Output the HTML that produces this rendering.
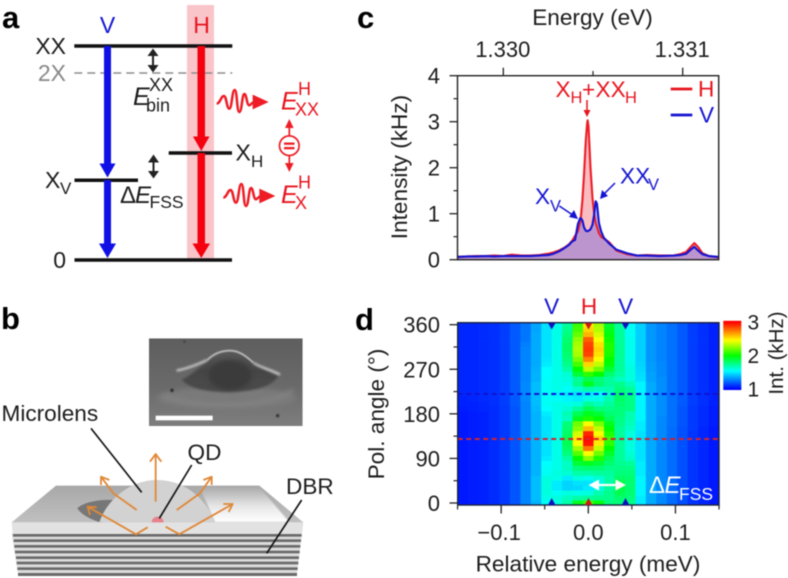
<!DOCTYPE html>
<html lang="en">
<head>
<meta charset="utf-8">
<title>Quantum dot emission figure</title>
<style>
html,body{margin:0;padding:0;background:#fff;width:788px;height:578px;overflow:hidden}
svg{display:block;position:absolute;left:0;top:0;filter:blur(0.45px)}
text{font-family:"Liberation Sans",Arial,sans-serif;fill:#1c1c1c}
.it{font-style:italic}
.bold{font-weight:bold;font-size:31px;fill:#000}
.red{fill:#e8141e}
.blue{fill:#1414d2}
</style>
</head>
<body>
<svg id="fig" width="788" height="578" viewBox="0 0 788 578" xmlns="http://www.w3.org/2000/svg">
<defs>
<filter id="b1" x="-30%" y="-30%" width="160%" height="160%"><feGaussianBlur stdDeviation="1.5"/></filter>
<filter id="b2" x="-30%" y="-30%" width="160%" height="160%"><feGaussianBlur stdDeviation="3"/></filter>
<filter id="b3" x="-30%" y="-30%" width="160%" height="160%"><feGaussianBlur stdDeviation="7"/></filter>
<linearGradient id="glow" x1="0" y1="0" x2="0" y2="1"><stop offset="0" stop-color="#a8a8a8"/><stop offset=".55" stop-color="#e6e6e6"/><stop offset="1" stop-color="#ffffff"/></linearGradient>
<linearGradient id="topface" x1="0" y1="0" x2="0" y2="1"><stop offset="0" stop-color="#a8a8a8"/><stop offset="1" stop-color="#c0c0c0"/></linearGradient>
<linearGradient id="semBg" x1="0" y1="0" x2="0" y2="1"><stop offset="0" stop-color="#5e5e5e"/><stop offset=".55" stop-color="#6a6a6a"/><stop offset="1" stop-color="#7e7e7e"/></linearGradient>
<linearGradient id="mound" x1="0" y1="0" x2="0" y2="1"><stop offset="0" stop-color="#5a5a5a"/><stop offset=".5" stop-color="#454545"/><stop offset="1" stop-color="#4c4c4c"/></linearGradient>
<clipPath id="plotC"><rect x="457.5" y="75.7" width="261.2" height="184"/></clipPath>
<clipPath id="plotD"><rect x="457.7" y="322.7" width="261.3" height="182.3"/></clipPath>
<clipPath id="semClip"><rect x="447" y="115" width="461" height="263"/></clipPath>
</defs>

<!-- PANEL A -->
<g id="panel-a">
<text class="bold" x="2" y="28">a</text>
<rect x="187" y="5" width="27" height="255" fill="#f9c5c9"/>
<text x="107.500" y="33" text-anchor="middle" font-size="23" class="blue">V</text>
<text x="201.500" y="33" text-anchor="middle" font-size="23" class="red">H</text>
<line x1="74.300" y1="46" x2="232.300" y2="46" stroke="#111" stroke-width="3.500"/>
<line x1="74.300" y1="73" x2="232.300" y2="73" stroke="#8c8c8c" stroke-width="1.500" stroke-dasharray="8 5"/>
<line x1="74.500" y1="180.300" x2="138" y2="180.300" stroke="#111" stroke-width="3.500"/>
<line x1="168.700" y1="153" x2="232" y2="153" stroke="#111" stroke-width="3.500"/>
<line x1="74.500" y1="260" x2="232" y2="260" stroke="#111" stroke-width="3.500"/>
<text x="66" y="54" text-anchor="end" font-size="23">XX</text>
<text x="66" y="81" text-anchor="end" font-size="23" fill="#888" style="fill:#888">2X</text>
<text x="45" y="188" font-size="23">X</text>
<text x="60" y="194" font-size="17">V</text>
<text x="66" y="268" text-anchor="end" font-size="23">0</text>
<text x="235.500" y="160.500" font-size="23">X</text>
<text x="251" y="167" font-size="17">H</text>
<g fill="#1010e6">
<rect x="104" y="46" width="7" height="118"/><polygon points="99.500,163.500 115.500,163.500 107.500,177.500"/>
<rect x="104" y="180" width="7" height="64"/><polygon points="99,243.500 116,243.500 107.500,258"/>
</g>
<g fill="#f5000f">
<rect x="197.500" y="46" width="7.500" height="92"/><polygon points="193,136.500 209.500,136.500 201.300,151"/>
<rect x="197.500" y="153" width="7.500" height="91"/><polygon points="192.500,243.500 210,243.500 201.300,258"/>
</g>
<g fill="#222" stroke="#222">
<line x1="153" y1="53" x2="153" y2="68" stroke-width="2"/><polygon points="147.500,56 158.500,56 153,48.500" stroke="none"/><polygon points="147.500,65 158.500,65 153,72.500" stroke="none"/>
</g>
<g fill="#222" stroke="#222">
<line x1="153.500" y1="160" x2="153.500" y2="174" stroke-width="2"/><polygon points="148,162.500 159,162.500 153.500,154.500" stroke="none"/><polygon points="148,171 159,171 153.500,178.500" stroke="none"/>
</g>
<text x="133" y="105" font-size="25" class="it">E</text>
<text x="149" y="91" font-size="18">XX</text>
<text x="146" y="111.500" font-size="18">bin</text>
<text x="120" y="203" font-size="24">Δ</text>
<text x="135" y="203" font-size="24" class="it">E</text>
<text x="149.500" y="208" font-size="17.500">FSS</text>
<g transform="scale(0.33333)">
<path d="M650 310 C660 312 664 286 672 288 C680 290 680 326 688 326 C696 326 696 270 704 270 C712 270 710 336 718 336 C726 336 726 282 733 282 C740 282 740 316 748 316 C752 316 756 306 765 306" fill="none" stroke="#ee1c25" stroke-width="7.500"/>
<polygon points="758,284 806,306 758,328" fill="#ee1c25"/>
</g>
<g transform="scale(0.33333) translate(20,282)">
<path d="M650 310 C660 312 664 286 672 288 C680 290 680 326 688 326 C696 326 696 270 704 270 C712 270 710 336 718 336 C726 336 726 282 733 282 C740 282 740 316 748 316 C752 316 756 306 765 306" fill="none" stroke="#ee1c25" stroke-width="7.500"/>
<polygon points="758,284 806,306 758,328" fill="#ee1c25"/>
</g>
<text x="281" y="109.500" font-size="25" class="it red">E</text>
<text x="298" y="95" font-size="18" class="red">H</text>
<text x="295" y="115.500" font-size="18" class="red">XX</text>
<text x="281" y="203" font-size="25" class="it red">E</text>
<text x="298" y="188.500" font-size="18" class="red">H</text>
<text x="295" y="209" font-size="18" class="red">X</text>
<g>
<circle cx="289.300" cy="145.700" r="9.800" fill="none" stroke="#ee1c25" stroke-width="1.700"/>
<rect x="284" y="142.500" width="10.500" height="2.300" fill="#ee1c25"/><rect x="284" y="147" width="10.500" height="2.300" fill="#ee1c25"/>
<line x1="289.300" y1="125" x2="289.300" y2="136" stroke="#ee1c25" stroke-width="1.700"/><polygon points="285,128 293.600,128 289.300,119" fill="#ee1c25"/>
<line x1="289.300" y1="155" x2="289.300" y2="166" stroke="#ee1c25" stroke-width="1.700"/><polygon points="285,163 293.600,163 289.300,172" fill="#ee1c25"/>
</g>
</g>

<!-- PANEL B -->
<g id="panel-b">
<text class="bold" x="1" y="329">b</text>
<g transform="translate(0,300) scale(0.33333)">
<g>
<g clip-path="url(#semClip)">
<rect x="447" y="115" width="461" height="263" fill="url(#semBg)"/>
<ellipse cx="680" cy="295" rx="210" ry="34" fill="#7a7a7a" filter="url(#b3)"/>
<path d="M545 238 C590 222 615 172 688 153 C745 158 775 205 835 228 C815 262 755 276 680 276 C620 276 565 265 545 238 Z" fill="url(#mound)" filter="url(#b2)"/>
<ellipse cx="690" cy="225" rx="65" ry="45" fill="#3a3a3a" filter="url(#b3)"/>
<path d="M622 180 C642 160 665 152 690 152 C715 152 735 165 760 188" fill="none" stroke="#cfcfcf" stroke-width="4.500" filter="url(#b1)"/>
<path d="M530 212 C565 205 590 195 622 180" fill="none" stroke="#d8d8d8" stroke-width="6" filter="url(#b2)"/>
<path d="M760 188 C785 205 810 208 840 224" fill="none" stroke="#dcdcdc" stroke-width="6" filter="url(#b2)"/>
<path d="M490 285 C560 325 800 330 880 270" fill="none" stroke="#858585" stroke-width="9" filter="url(#b3)"/>
<circle cx="516" cy="271" r="5" fill="#2a2a2a" filter="url(#b1)"/><circle cx="833" cy="347" r="5" fill="#333" filter="url(#b1)"/><circle cx="553" cy="125" r="3" fill="#333" filter="url(#b1)"/>
</g>
<rect x="467" y="347" width="171" height="14" fill="#fff"/>
</g>
<g>
<polygon points="35,700 906,700 890,828 55,828" fill="#dcdcdc"/>
<polygon points="35,667 910,667 906,702 38,702" fill="#e2e2e2"/>
<rect x="39" y="702" width="866" height="8" fill="#6a6a6a"/>
<rect x="41" y="718" width="862" height="8" fill="#6a6a6a"/>
<rect x="43" y="735" width="858" height="8" fill="#6a6a6a"/>
<rect x="45" y="752" width="854" height="8" fill="#6a6a6a"/>
<rect x="48" y="769" width="849" height="8" fill="#6a6a6a"/>
<rect x="50" y="785" width="845" height="8" fill="#6a6a6a"/>
<rect x="52" y="802" width="841" height="8" fill="#6a6a6a"/>
<rect x="54" y="819" width="837" height="9" fill="#6a6a6a"/>
<polygon points="35,667 168,557 778,557 910,667" fill="url(#topface)"/>
</g>
<path d="M598 559 L776 559 L868 666 L645 666 Z" fill="url(#glow)" filter="url(#b1)"/>
<path d="M232 625 C250 606 300 598 340 600 L305 668 C275 660 245 645 232 625 Z" fill="#777"/>
<path d="M298 667 C320 600 390 540 470 540 C550 540 615 590 645 667 Z" fill="#d2d2d2"/>
<path d="M455 667 C456 655 465 650 472 650 C482 650 490 656 491 667 Z" fill="#e8808e"/>
<g fill="none" stroke="#e08838" stroke-width="5.500" stroke-linejoin="round">
<path d="M467 605 L467 465 M450 485 L467 462 L484 485"/>
<path d="M410 630 L340 580 L303 530 M303 555 L303 530 L328 540"/>
<path d="M530 630 L600 580 L635 530 M635 555 L635 530 L610 540"/>
<path d="M443 682 L408 703 L263 620 M270 645 L263 620 L290 622"/>
<path d="M497 680 L538 703 L698 612 M670 612 L698 612 L686 636"/>
</g>
<g stroke="#111" stroke-width="5">
<line x1="273" y1="385" x2="425" y2="577"/>
<line x1="575" y1="495" x2="478" y2="655"/>
<line x1="905" y1="600" x2="800" y2="760"/>
</g>
</g>
<text x="1.500" y="421" font-size="22.600">Microlens</text>
<text x="187.500" y="460" font-size="22.600">QD</text>
<text x="286" y="494" font-size="22.600">DBR</text>
</g>

<!-- PANEL C -->
<g id="panel-c">
<text class="bold" x="357" y="28">c</text>
<text x="592.500" y="25" text-anchor="middle" font-size="22.600">Energy (eV)</text>
<text transform="translate(407,167) rotate(-90)" text-anchor="middle" font-size="22.600">Intensity (kHz)</text>
<g id="cMarks" clip-path="url(#plotC)"></g>
<g id="cAxes"></g>
<rect x="457.500" y="75.700" width="261.200" height="184" fill="none" stroke="#222" stroke-width="1.400"/>
<text x="555.500" y="97" font-size="22.600" class="red">X</text>
<text x="570.500" y="103" font-size="16.500" class="red">H</text>
<text x="582" y="97" font-size="22.600" class="red">+</text>
<text x="595.500" y="97" font-size="22.600" class="red">XX</text>
<text x="625" y="103" font-size="16.500" class="red">H</text>
<g><line x1="587" y1="100" x2="587" y2="112" stroke="#e8141e" stroke-width="1.500"/><polygon points="583.500,110 590.500,110 587,117" fill="#e8141e"/></g>
<line x1="670.700" y1="89" x2="692.300" y2="89" stroke="#e8141e" stroke-width="2.800"/>
<text x="698" y="96.500" font-size="22.600" class="red">H</text>
<line x1="670.700" y1="115" x2="692.300" y2="115" stroke="#1414d2" stroke-width="2.800"/>
<text x="699" y="122.500" font-size="22.600" class="blue">V</text>
<text x="535" y="204" font-size="22.600" class="blue">X</text>
<text x="550" y="211.500" font-size="16.500" class="blue">V</text>
<g><line x1="559.300" y1="206" x2="572" y2="214.500" stroke="#1414d2" stroke-width="1.500"/><polygon points="569,217 574,210 578,219" fill="#1414d2"/></g>
<text x="620" y="183.500" font-size="22.600" class="blue">XX</text>
<text x="648" y="190" font-size="16.500" class="blue">V</text>
<g><line x1="615" y1="183" x2="604" y2="194" stroke="#1414d2" stroke-width="1.500"/><polygon points="600,199 602,190 608,196" fill="#1414d2"/></g>
</g>

<!-- PANEL D -->
<g id="panel-d">
<text class="bold" x="355" y="330">d</text>
<g id="dCells" clip-path="url(#plotD)"></g>
<line x1="457.700" y1="394" x2="719" y2="394" stroke="#1212d0" stroke-width="2" stroke-dasharray="5 3.500"/>
<line x1="457.700" y1="439" x2="719" y2="439" stroke="#d8202c" stroke-width="2" stroke-dasharray="5 3.500"/>
<g id="dAxes"></g>
<rect x="457.700" y="322.700" width="261.300" height="182.300" fill="none" stroke="#1a2240" stroke-width="1.400"/>
<text x="551.700" y="314" text-anchor="middle" font-size="22.600" class="blue">V</text>
<text x="589" y="314" text-anchor="middle" font-size="22.600" class="red">H</text>
<text x="625.700" y="314" text-anchor="middle" font-size="22.600" class="blue">V</text>
<g>
<polygon points="548,323 555.500,323 551.700,329.500" fill="#1010c0"/><polygon points="584.800,323 592.300,323 588.500,329.500" fill="#d01818"/><polygon points="621.800,323 629.300,323 625.500,329.500" fill="#1010c0"/>
<polygon points="548,505 555.500,505 551.700,498" fill="#1010c0"/><polygon points="584.800,505 592.300,505 588.500,498" fill="#d01818"/><polygon points="621.800,505 629.300,505 625.500,498" fill="#1010c0"/>
</g>
<g>
<line x1="596" y1="485" x2="618" y2="485" stroke="#fff" stroke-width="2.200"/>
<polygon points="588.500,485 599,479.500 599,490.500" fill="#fff"/><polygon points="626,485 615.500,479.500 615.500,490.500" fill="#fff"/>
</g>
<text x="649" y="493" font-size="24" style="fill:#fff">Δ</text>
<text x="664.500" y="493" font-size="24" class="it" style="fill:#fff">E</text>
<text x="679" y="500" font-size="17.500" style="fill:#fff">FSS</text>
<text x="588" y="571.500" text-anchor="middle" font-size="22.600">Relative energy (meV)</text>
<text transform="translate(384,414) rotate(-90)" text-anchor="middle" font-size="22.600">Pol. angle (°)</text>
<g id="cbar"></g>
<text transform="translate(783,353) rotate(-90)" text-anchor="middle" font-size="20.500">Int. (kHz)</text>
</g>
</svg>

<script>
/* ---------- spectrum data (panel c) ---------- */
const energiesEv = [1.329745,1.329800,1.329850,1.329900,1.329950,1.330000,1.330047,1.330100,1.330150,1.330200,1.330250,1.330280,1.330310,1.330340,1.330365,1.330385,1.330400,1.330416,1.330428,1.330433,1.330441,1.330450,1.330460,1.330467,1.330470,1.330475,1.330486,1.330497,1.330505,1.330515,1.330522,1.330533,1.330545,1.330560,1.330590,1.330630,1.330690,1.330745,1.330800,1.330870,1.330950,1.330985,1.331020,1.331045,1.331065,1.331085,1.331110,1.331145,1.331201];
const intensityH = [0.06,0.07,0.08,0.08,0.09,0.08,0.11,0.09,0.09,0.10,0.13,0.16,0.20,0.26,0.33,0.42,0.52,0.62,0.82,0.95,1.30,1.85,2.60,2.95,3.03,2.90,2.00,1.35,1.05,0.80,0.72,0.58,0.50,0.46,0.38,0.20,0.12,0.09,0.10,0.09,0.09,0.12,0.17,0.28,0.36,0.28,0.14,0.08,0.05];
const intensityV = [0.06,0.07,0.07,0.08,0.07,0.08,0.08,0.08,0.08,0.09,0.10,0.13,0.18,0.25,0.32,0.40,0.43,0.78,0.90,0.90,0.85,0.70,0.63,0.62,0.62,0.63,0.66,0.76,0.95,1.27,1.22,0.80,0.62,0.48,0.35,0.22,0.14,0.09,0.09,0.08,0.09,0.10,0.13,0.22,0.28,0.20,0.12,0.08,0.06];
const intensityTicks = [0,1,2,3,4];
const intensityMinorTicks = [0.5,1.5,2.5,3.5];
const energyTicks = [1.330,1.331];
const energyTickLabels = ['1.330','1.331'];
const energyMinorTicks = [1.3305];

/* ---------- heatmap data (panel d) ---------- */
const relEnergies = [-0.144,-0.132,-0.120,-0.108,-0.096,-0.084,-0.072,-0.060,-0.048,-0.036,-0.024,-0.012,0,0.012,0.024,0.036,0.048,0.060,0.072,0.084,0.096,0.108,0.120,0.132,0.144];
const polAngles = [360,350,340,330,320,310,300,290,280,270,260,250,240,230,220,210,200,190,180,170,160,150,140,130,120,110,100,90,80,70,60,50,40,30,20,10,0];
const heatValues = [
[1.08,1.08,1.09,1.10,1.13,1.19,1.25,1.35,1.48,1.58,1.72,2.10,2.50,2.30,1.92,1.72,1.56,1.44,1.32,1.28,1.24,1.19,1.13,1.10,1.07],
[1.08,1.08,1.09,1.10,1.13,1.19,1.25,1.35,1.48,1.58,1.75,2.12,2.55,2.32,1.95,1.72,1.56,1.44,1.32,1.28,1.24,1.19,1.13,1.10,1.07],
[1.08,1.08,1.09,1.10,1.13,1.19,1.25,1.36,1.48,1.58,1.78,2.18,2.62,2.38,1.98,1.72,1.56,1.44,1.32,1.28,1.24,1.19,1.13,1.10,1.07],
[1.08,1.08,1.09,1.10,1.13,1.19,1.25,1.36,1.48,1.58,1.80,2.26,2.80,2.45,2.02,1.72,1.57,1.44,1.32,1.28,1.24,1.19,1.13,1.10,1.07],
[1.08,1.08,1.09,1.10,1.13,1.19,1.27,1.36,1.48,1.58,1.82,2.30,2.86,2.52,2.05,1.73,1.57,1.44,1.32,1.28,1.24,1.19,1.13,1.10,1.07],
[1.08,1.08,1.09,1.10,1.13,1.19,1.28,1.36,1.48,1.58,1.82,2.32,2.88,2.55,2.05,1.73,1.57,1.44,1.32,1.28,1.24,1.19,1.13,1.10,1.07],
[1.08,1.08,1.09,1.10,1.13,1.19,1.28,1.36,1.48,1.58,1.80,2.30,2.86,2.52,2.04,1.73,1.57,1.44,1.32,1.28,1.24,1.19,1.13,1.10,1.07],
[1.08,1.08,1.09,1.10,1.13,1.19,1.28,1.36,1.49,1.58,1.78,2.22,2.72,2.45,2.00,1.72,1.57,1.44,1.32,1.28,1.24,1.19,1.13,1.10,1.07],
[1.08,1.08,1.09,1.10,1.13,1.19,1.28,1.36,1.50,1.58,1.75,2.12,2.55,2.35,1.98,1.72,1.58,1.45,1.33,1.29,1.24,1.19,1.13,1.10,1.07],
[1.08,1.08,1.09,1.10,1.13,1.19,1.28,1.37,1.54,1.58,1.70,2.00,2.35,2.20,1.90,1.72,1.60,1.46,1.33,1.29,1.24,1.19,1.13,1.10,1.07],
[1.08,1.08,1.09,1.10,1.13,1.19,1.28,1.38,1.54,1.58,1.62,1.90,2.08,2.00,1.80,1.70,1.60,1.47,1.34,1.29,1.24,1.19,1.13,1.10,1.07],
[1.08,1.08,1.09,1.10,1.13,1.19,1.28,1.38,1.55,1.58,1.60,1.72,1.85,1.78,1.72,1.65,1.60,1.48,1.34,1.30,1.24,1.19,1.13,1.10,1.07],
[1.08,1.08,1.09,1.10,1.13,1.19,1.29,1.40,1.56,1.58,1.58,1.75,1.95,1.80,1.72,1.75,1.66,1.52,1.36,1.30,1.24,1.19,1.13,1.10,1.07],
[1.08,1.08,1.09,1.10,1.13,1.19,1.29,1.40,1.56,1.58,1.55,1.62,1.70,1.66,1.68,1.78,1.72,1.52,1.36,1.30,1.24,1.19,1.13,1.10,1.07],
[1.08,1.08,1.09,1.10,1.13,1.19,1.29,1.40,1.56,1.52,1.50,1.48,1.50,1.55,1.65,1.82,1.76,1.52,1.36,1.30,1.24,1.19,1.13,1.10,1.07],
[1.07,1.08,1.09,1.10,1.13,1.19,1.29,1.40,1.56,1.55,1.52,1.50,1.58,1.58,1.68,1.82,1.76,1.52,1.36,1.30,1.24,1.19,1.13,1.10,1.07],
[1.07,1.07,1.08,1.10,1.13,1.19,1.28,1.40,1.56,1.58,1.58,1.60,1.72,1.66,1.72,1.80,1.76,1.52,1.36,1.30,1.24,1.19,1.13,1.10,1.07],
[1.06,1.07,1.08,1.09,1.12,1.18,1.28,1.39,1.54,1.58,1.62,1.72,1.85,1.78,1.76,1.78,1.76,1.52,1.36,1.30,1.24,1.18,1.12,1.09,1.06],
[1.05,1.06,1.07,1.09,1.12,1.18,1.28,1.38,1.50,1.58,1.68,1.85,1.95,1.90,1.80,1.78,1.68,1.52,1.36,1.30,1.24,1.18,1.12,1.09,1.06],
[1.05,1.06,1.07,1.09,1.12,1.18,1.28,1.38,1.48,1.58,1.65,1.95,2.05,2.00,1.85,1.76,1.68,1.52,1.36,1.29,1.24,1.18,1.12,1.09,1.06],
[1.05,1.06,1.07,1.09,1.12,1.18,1.28,1.38,1.48,1.58,1.78,2.20,2.45,2.22,1.95,1.75,1.66,1.50,1.36,1.29,1.24,1.18,1.12,1.09,1.06],
[1.05,1.06,1.07,1.09,1.12,1.18,1.28,1.38,1.48,1.58,1.80,2.25,2.60,2.35,2.00,1.72,1.64,1.50,1.36,1.29,1.23,1.17,1.12,1.08,1.05],
[1.05,1.06,1.07,1.09,1.12,1.18,1.28,1.38,1.48,1.58,1.82,2.38,2.92,2.45,2.05,1.72,1.60,1.48,1.36,1.29,1.23,1.17,1.11,1.08,1.05],
[1.05,1.06,1.07,1.09,1.12,1.18,1.28,1.38,1.48,1.58,1.85,2.50,2.98,2.55,2.10,1.72,1.60,1.48,1.36,1.29,1.23,1.17,1.11,1.08,1.05],
[1.05,1.06,1.07,1.09,1.12,1.18,1.28,1.38,1.48,1.58,1.85,2.45,2.96,2.50,2.08,1.72,1.60,1.48,1.36,1.29,1.23,1.17,1.11,1.08,1.05],
[1.05,1.06,1.07,1.09,1.12,1.18,1.28,1.38,1.48,1.58,1.82,2.30,2.75,2.35,2.00,1.72,1.60,1.48,1.36,1.29,1.23,1.17,1.11,1.08,1.05],
[1.05,1.06,1.07,1.09,1.12,1.18,1.28,1.38,1.48,1.58,1.78,2.15,2.45,2.20,1.92,1.72,1.62,1.48,1.36,1.29,1.23,1.17,1.11,1.08,1.05],
[1.05,1.06,1.07,1.09,1.12,1.18,1.28,1.38,1.50,1.58,1.70,2.00,2.25,2.05,1.85,1.72,1.64,1.48,1.36,1.29,1.23,1.17,1.11,1.08,1.05],
[1.05,1.06,1.07,1.09,1.12,1.18,1.28,1.38,1.54,1.58,1.65,1.90,1.95,1.90,1.80,1.74,1.72,1.50,1.36,1.29,1.23,1.17,1.11,1.08,1.05],
[1.05,1.06,1.07,1.09,1.12,1.18,1.28,1.38,1.56,1.58,1.65,1.78,1.80,1.80,1.75,1.76,1.76,1.50,1.36,1.29,1.23,1.17,1.11,1.08,1.05],
[1.05,1.06,1.07,1.09,1.12,1.18,1.28,1.38,1.56,1.60,1.62,1.70,1.70,1.72,1.72,1.78,1.78,1.50,1.36,1.29,1.23,1.17,1.11,1.08,1.05],
[1.05,1.06,1.07,1.09,1.12,1.18,1.28,1.40,1.60,1.58,1.50,1.60,1.57,1.62,1.70,1.82,1.80,1.52,1.36,1.29,1.23,1.17,1.11,1.08,1.05],
[1.05,1.06,1.07,1.09,1.12,1.18,1.28,1.40,1.60,1.50,1.45,1.48,1.48,1.58,1.70,1.88,1.80,1.52,1.36,1.29,1.23,1.17,1.11,1.08,1.05],
[1.05,1.06,1.07,1.09,1.12,1.18,1.28,1.40,1.60,1.50,1.45,1.46,1.50,1.60,1.72,1.88,1.80,1.52,1.36,1.29,1.23,1.17,1.11,1.08,1.05],
[1.05,1.06,1.07,1.09,1.12,1.18,1.28,1.40,1.60,1.56,1.60,1.58,1.60,1.68,1.75,1.85,1.80,1.52,1.36,1.29,1.23,1.17,1.11,1.08,1.05],
[1.05,1.06,1.07,1.09,1.12,1.18,1.28,1.40,1.58,1.60,1.65,1.70,1.72,1.75,1.75,1.80,1.78,1.50,1.36,1.29,1.23,1.17,1.11,1.08,1.05],
[1.05,1.06,1.07,1.09,1.12,1.18,1.28,1.38,1.56,1.60,1.70,1.95,2.10,1.98,1.78,1.78,1.76,1.50,1.36,1.29,1.23,1.17,1.11,1.08,1.05]
];
const relEnergyTicks = [-0.1,0,0.1];
const relEnergyTickLabels = ['\u22120.1','0.0','0.1'];
const relEnergyMinorTicks = [-0.15,-0.05,0.05,0.15];
const angleTicks = [0,90,180,270,360];
const angleMinorTicks = [45,135,225,315];
const colorbarTicks = [1,2,3];
const colorbarLevels = [1.00,1.05,1.10,1.15,1.20,1.25,1.30,1.35,1.40,1.45,1.50,1.55,1.60,1.65,1.70,1.75,1.80,1.85,1.90,1.95,2.00,2.05,2.10,2.15,2.20,2.25,2.30,2.35,2.40,2.45,2.50,2.55,2.60,2.65,2.70,2.75,2.80,2.85,2.90,2.95,3.00];

/* ---------- axis functions ---------- */
const NS = 'http://www.w3.org/2000/svg';
function xEnergy(e){ return 503.3 + (e - 1.330) * 179400; }
function yIntensity(v){ return 259.7 - v * 46; }
function xRel(r){ return 588.3 + r * 871.5; }
function yAngle(a){ return 503 - a * 0.4953; }
function yColor(v){ return 389 - (v - 1) * 33.5; }
function heatColor(v){
  const t = Math.max(0, Math.min(1, (v - 1) / 2));
  const stops = [[0,0,0,255],[0.27,0,255,255],[0.5,0,255,0],[0.73,255,255,0],[1,255,0,0]];
  for (let i = 1; i < stops.length; i++) {
    if (t <= stops[i][0]) {
      const a = stops[i-1], b = stops[i], f = (t - a[0]) / (b[0] - a[0]);
      return 'rgb(' + Math.round(a[1]+(b[1]-a[1])*f) + ',' + Math.round(a[2]+(b[2]-a[2])*f) + ',' + Math.round(a[3]+(b[3]-a[3])*f) + ')';
    }
  }
  return 'rgb(255,0,0)';
}
function mk(parent, tag, props){
  const el = document.createElementNS(NS, tag);
  for (const k in props) el.setAttribute(k, props[k]);
  parent.appendChild(el);
  return el;
}
function linePts(vals){
  return energiesEv.map((e, i) => xEnergy(e).toFixed(2) + ',' + yIntensity(vals[i]).toFixed(2)).join(' ');
}
function areaPts(vals){
  const a = xEnergy(energiesEv[0]).toFixed(2) + ',' + yIntensity(0);
  const b = xEnergy(energiesEv[energiesEv.length-1]).toFixed(2) + ',' + yIntensity(0);
  return a + ' ' + linePts(vals) + ' ' + b;
}

/* ---------- panel c marks ---------- */
const cMarks = document.getElementById('cMarks');
const fillH = mk(cMarks, 'polygon', {points: areaPts(intensityH), fill: '#f9bcc0'});


const fillV = mk(cMarks, 'polygon', {points: areaPts(intensityV), fill: 'rgb(100,90,227)', 'fill-opacity': '0.4'});


const lineH = mk(cMarks, 'polyline', {points: linePts(intensityH), fill: 'none', stroke: '#ee1c25', 'stroke-width': '2.1', 'stroke-linejoin': 'round'});


const lineV = mk(cMarks, 'polyline', {points: linePts(intensityV), fill: 'none', stroke: '#1414d2', 'stroke-width': '2.1', 'stroke-linejoin': 'round'});



/* ---------- panel c axes ---------- */
const cAxes = document.getElementById('cAxes');
intensityTicks.forEach((v) => {
  const t = mk(cAxes, 'line', {x1: 449.5, x2: 457.5, y1: yIntensity(v), y2: yIntensity(v), stroke: '#222', 'stroke-width': 1.3});
  
  
  const l = mk(cAxes, 'text', {x: 440, y: yIntensity(v) + 8, 'text-anchor': 'end', 'font-size': 22});
  
  
  l.textContent = String(v);
});
intensityMinorTicks.forEach((v) => {
  const t = mk(cAxes, 'line', {x1: 453.5, x2: 457.5, y1: yIntensity(v), y2: yIntensity(v), stroke: '#222', 'stroke-width': 1.2});
  
  
});
energyTicks.forEach((e, i) => {
  const t = mk(cAxes, 'line', {x1: xEnergy(e), x2: xEnergy(e), y1: 67.7, y2: 75.7, stroke: '#222', 'stroke-width': 1.3});
  
  
  const l = mk(cAxes, 'text', {x: xEnergy(e) - 0.5, y: 57, 'text-anchor': 'middle', 'font-size': 22});
  
  
  l.textContent = energyTickLabels[i];
});
energyMinorTicks.forEach((e) => {
  const t = mk(cAxes, 'line', {x1: xEnergy(e), x2: xEnergy(e), y1: 71, y2: 75.7, stroke: '#222', 'stroke-width': 1.2});
  
  
});

/* ---------- panel d cells ---------- */
const dCells = document.getElementById('dCells');
const cellW = 871.5 * 0.012;
const cellH = 0.4953 * 10;
heatValues.forEach((row, r) => {
  row.forEach((v, c) => {
    const cell = mk(dCells, 'rect', {
      x: (xRel(relEnergies[c]) - cellW / 2).toFixed(2),
      y: (yAngle(polAngles[r]) - cellH / 2).toFixed(2),
      width: (cellW + 0.4).toFixed(2),
      height: (cellH + 0.4).toFixed(2),
      fill: heatColor(v)
    });
    
    
  });
});

/* ---------- panel d axes ---------- */
const dAxes = document.getElementById('dAxes');
relEnergyTicks.forEach((r, i) => {
  const t = mk(dAxes, 'line', {x1: xRel(r), x2: xRel(r), y1: 505, y2: 513.5, stroke: '#222', 'stroke-width': 1.3});
  
  
  const l = mk(dAxes, 'text', {x: xRel(r) - (i === 0 ? 2 : 0), y: 540, 'text-anchor': 'middle', 'font-size': 22});
  
  
  l.textContent = relEnergyTickLabels[i];
});
relEnergyMinorTicks.forEach((r) => {
  const t = mk(dAxes, 'line', {x1: xRel(r), x2: xRel(r), y1: 505, y2: 509.5, stroke: '#222', 'stroke-width': 1.2});
  
  
});
angleTicks.forEach((a) => {
  const t = mk(dAxes, 'line', {x1: 449.5, x2: 457.7, y1: yAngle(a), y2: yAngle(a), stroke: '#222', 'stroke-width': 1.3});
  
  
  const l = mk(dAxes, 'text', {x: 440, y: yAngle(a) + 8, 'text-anchor': 'end', 'font-size': 22});
  
  
  l.textContent = String(a);
});
angleMinorTicks.forEach((a) => {
  const t = mk(dAxes, 'line', {x1: 453.5, x2: 457.7, y1: yAngle(a), y2: yAngle(a), stroke: '#222', 'stroke-width': 1.2});
  
  
});

/* ---------- colorbar ---------- */
const cbar = document.getElementById('cbar');
colorbarLevels.forEach((v) => {
  const s = mk(cbar, 'rect', {x: 723.3, y: (yColor(v) - 1.2).toFixed(2), width: 18, height: 2.2, fill: heatColor(v)});
  
  
});
colorbarTicks.forEach((v) => {
  const l = mk(cbar, 'text', {x: 747.5, y: yColor(v) + 7.5, 'font-size': 21});
  
  
  l.textContent = String(v);
});
</script>
</body>
</html>
